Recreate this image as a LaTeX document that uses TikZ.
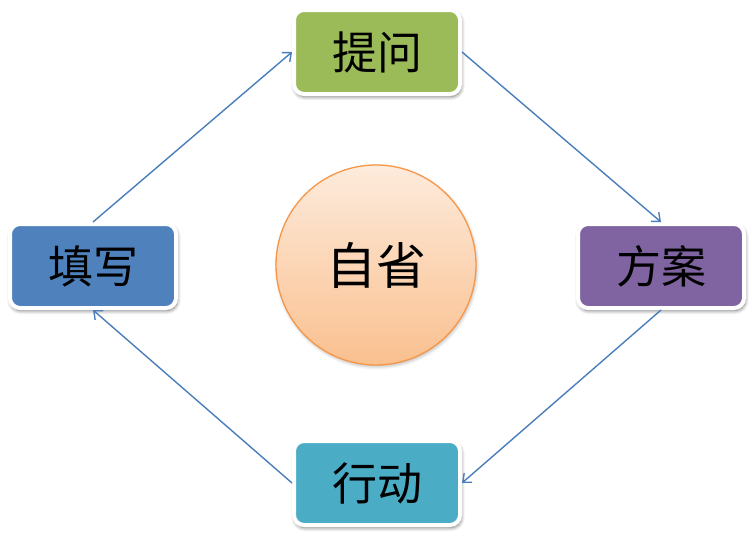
\documentclass[tikz,border=0pt]{standalone}
\usepackage{fontspec}
\setmainfont{Noto Sans CJK SC}
\usetikzlibrary{shadows.blur,arrows.meta}
\definecolor{askgreen}{HTML}{9BBB59}
\definecolor{planpurple}{HTML}{8064A2}
\definecolor{fillblue}{HTML}{4F81BD}
\definecolor{actteal}{HTML}{4BACC6}
\definecolor{peachtop}{HTML}{FDEBDC}
\definecolor{peachbot}{HTML}{FAC08F}
\definecolor{peachline}{HTML}{F79646}
\definecolor{arrowblue}{HTML}{4A7EBB}
\begin{document}
\begin{tikzpicture}[x=1pt, y=-1pt,
        box/.style={rounded corners=10pt, draw=white, line width=4pt, minimum width=166pt, minimum height=84pt,
            font=\fontsize{45}{45}\selectfont,
            blur shadow={shadow xshift=1pt, shadow yshift=-2.5pt, shadow blur radius=4pt, shadow blur steps=10, shadow opacity=55}},
        link/.style={arrowblue, line width=1.4pt, -{Straight Barb[length=7pt, width=12pt]}}]
            \useasboundingbox (0, 0) rectangle (752, 549);
            \node[circle, draw=peachline, line width=1.3pt, minimum size=200pt, top color=peachtop, bottom color=peachbot,
                font=\fontsize{50}{50}\selectfont,
                blur shadow={shadow xshift=1pt, shadow yshift=-2pt, shadow blur radius=3pt, shadow opacity=25}] (self) at (376, 265) {自省};
            \node[box, fill=askgreen] (top) at (377, 52) {提问};
            \node[box, fill=planpurple] (right) at (661, 266) {方案};
            \node[box, fill=fillblue] (left) at (93, 266) {填写};
            \node[box, fill=actteal] (bottom) at (377, 483) {行动};
            \draw[link] (left.north) -- (top.west);
            \draw[link] (top.east) -- (right.north);
            \draw[link] (right.south) -- (bottom.east);
            \draw[link] (bottom.west) -- (left.south);
        \end{tikzpicture}
\end{document}
